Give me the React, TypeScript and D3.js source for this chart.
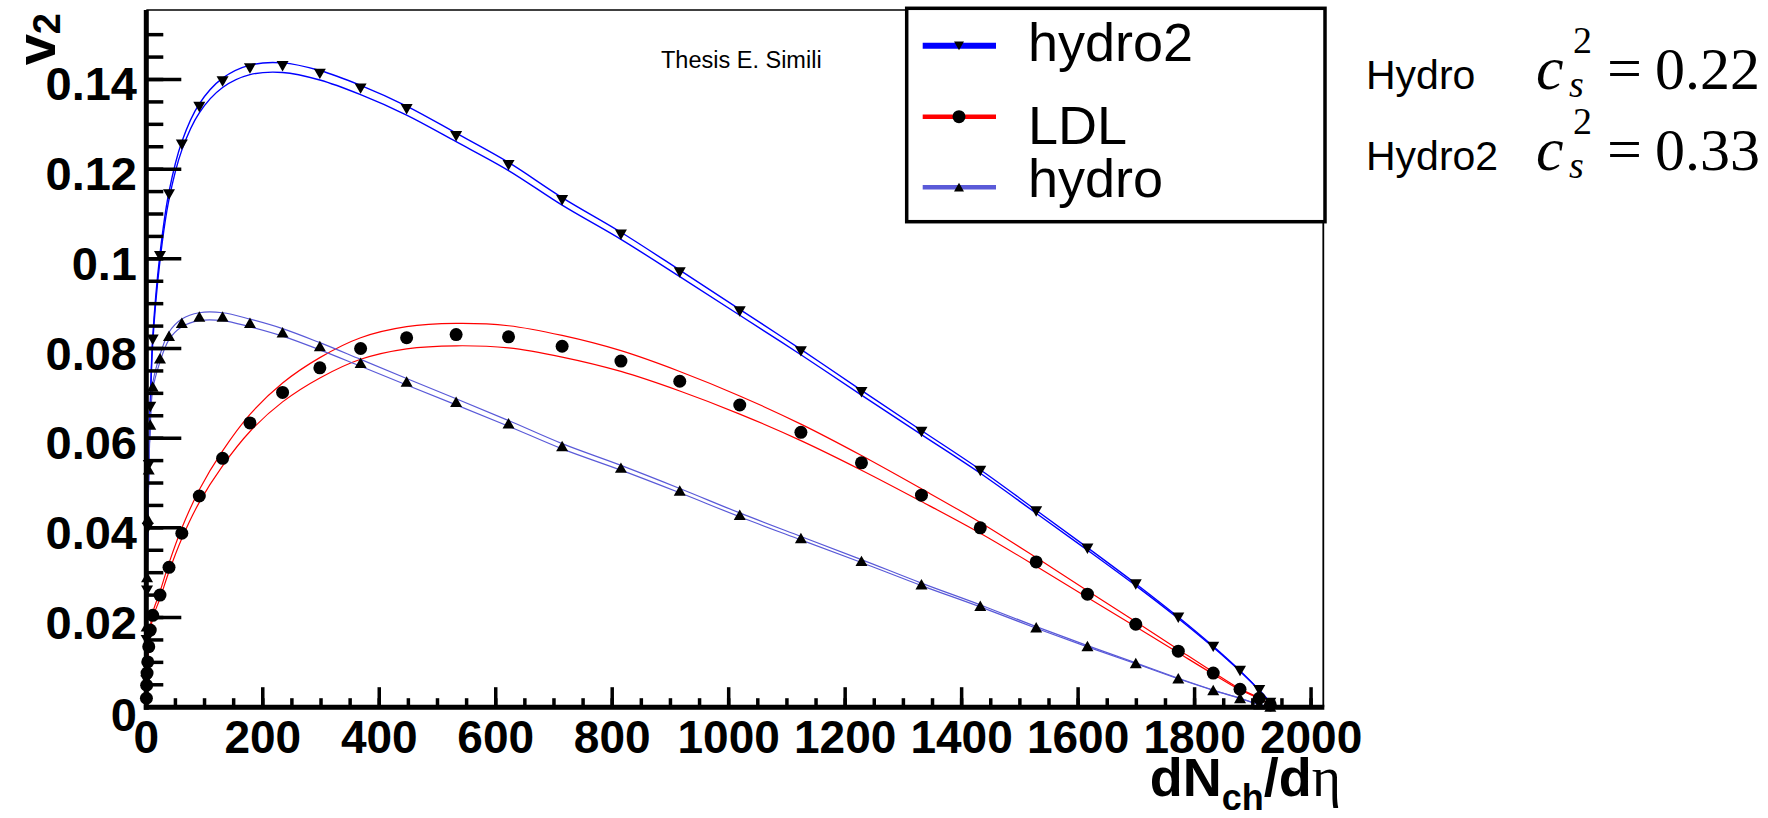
import React from "react";
import * as d3 from "d3";

// ---- data ----
const dNch = [0.2, 0.6, 1.3, 2.5, 4.2, 6.8, 11, 23.5, 39, 61, 91, 131, 178, 234, 298, 368, 447, 532, 622, 714, 815, 916, 1019, 1124, 1228, 1331, 1432, 1528, 1616, 1699, 1772, 1832, 1878, 1911, 1930];
const hydro2V2 = [0.006, 0.015, 0.026, 0.04, 0.054, 0.067, 0.082, 0.1006, 0.1144, 0.1255, 0.1339, 0.1396, 0.1425, 0.143, 0.1413, 0.138, 0.1334, 0.1274, 0.1209, 0.1131, 0.1054, 0.097, 0.0883, 0.0794, 0.0703, 0.0614, 0.0527, 0.0437, 0.0354, 0.0274, 0.02, 0.0135, 0.0081, 0.0038, 0.001];
const ldlV2 = [0.002, 0.0049, 0.0076, 0.0101, 0.0135, 0.0172, 0.0205, 0.025, 0.0312, 0.0388, 0.0471, 0.0555, 0.0634, 0.0702, 0.0757, 0.08, 0.0824, 0.0831, 0.0826, 0.0805, 0.0772, 0.0727, 0.0674, 0.0613, 0.0545, 0.0473, 0.04, 0.0324, 0.0252, 0.0185, 0.0125, 0.0076, 0.004, 0.002, 0.0005];
const hydroV2 = [0.008, 0.018, 0.029, 0.042, 0.053, 0.063, 0.0715, 0.0778, 0.0828, 0.0857, 0.0871, 0.0871, 0.0857, 0.0836, 0.0805, 0.0768, 0.0726, 0.0681, 0.0633, 0.0582, 0.0534, 0.0483, 0.0429, 0.0377, 0.0326, 0.0274, 0.0226, 0.0178, 0.0136, 0.0098, 0.0064, 0.0038, 0.002, 0.0006, 0.0001];
// relative half-widths of the theory bands (lower, upper factor)
const hydro2Band = [0.99, 1.005];
const ldlBand = [0.97, 1.03];
const hydroBand = [0.99, 1.01];

const xTicks = [0, 200, 400, 600, 800, 1000, 1200, 1400, 1600, 1800, 2000];
const xMinor = d3.range(0, 2001, 50);
const yTicks = [0, 0.02, 0.04, 0.06, 0.08, 0.1, 0.12, 0.14];
const yTickLabels = ["0", "0.02", "0.04", "0.06", "0.08", "0.1", "0.12", "0.14"];
const yMinor = d3.range(0, 0.1501, 0.005);

const legendLabels = ["hydro2", "LDL", "hydro"];
const annotationNames = ["Hydro", "Hydro2"];
const annotationValues = ["0.22", "0.33"];

const HYDRO2_COLOR = "#0000ff";
const LDL_COLOR = "#ff0000";
const HYDRO_COLOR = "#5a5ad8";

const SANS = "'Liberation Sans', Arial, Helvetica, sans-serif";
const SERIF = "'Liberation Serif', 'Times New Roman', serif";

export default function App() {
  const x = d3.scaleLinear().domain([0, 2021]).range([146.3, 1323.3]);
  const y = d3.scaleLinear().domain([0, 0.1555]).range([707.2, 10]);

  const mkLine = (vals: number[], f: number) =>
    d3
      .line<number>()
      .x((_, i) => x(dNch[i]))
      .y((v) => y(v * f))
      .curve(d3.curveCatmullRom.alpha(0.5))(vals) || "";

  const downTri = (cx: number, cy: number, s = 12) =>
    `M${cx - s / 2},${cy - s * 0.42}L${cx + s / 2},${cy - s * 0.42}L${cx},${cy + s * 0.45}Z`;
  const upTri = (cx: number, cy: number, s = 12) =>
    `M${cx - s / 2},${cy + s * 0.42}L${cx + s / 2},${cy + s * 0.42}L${cx},${cy - s * 0.45}Z`;

  const series = [
    { vals: hydro2V2, band: hydro2Band, color: HYDRO2_COLOR, w: 1.4, marker: "down" },
    { vals: ldlV2, band: ldlBand, color: LDL_COLOR, w: 1.2, marker: "circle" },
    { vals: hydroV2, band: hydroBand, color: HYDRO_COLOR, w: 1.2, marker: "up" },
  ];

  const x0 = x(0);
  const x1 = x(2021);
  const yTop = y(0.1555);
  const yBot = y(0);

  const legendRows = [45.7, 116.7, 187.3];
  const legendBaselines = [61, 144, 197];
  const annRows = [
    { base: 89, sup: 53, sub: 97 },
    { base: 170, sup: 134, sub: 178 },
  ];

  return (
    <svg
      width={1768}
      height={818}
      style={{ position: "absolute", left: 0, top: 0, background: "#fff" }}
      xmlns="http://www.w3.org/2000/svg"
    >
      <rect x={0} y={0} width={1768} height={818} fill="#fff" />
      <defs>
        <clipPath id="plotClip">
          <rect x={x0} y={yTop} width={x1 - x0} height={yBot - yTop} />
        </clipPath>
      </defs>

      {/* frame top & right */}
      <line x1={x0} x2={x1} y1={yTop} y2={yTop} stroke="#000" strokeWidth={1.5} />
      <line x1={x1} x2={x1} y1={yTop} y2={yBot} stroke="#000" strokeWidth={1.8} />

      {/* band lines */}
      <g clipPath="url(#plotClip)">
        {series.map((s, si) => (
          <g key={si}>
            <path d={mkLine(s.vals, s.band[0])} fill="none" stroke={s.color} strokeWidth={s.w} />
            <path d={mkLine(s.vals, s.band[1])} fill="none" stroke={s.color} strokeWidth={s.w} />
          </g>
        ))}
      </g>

      {/* markers */}
      <g fill="#000">
        {series.map((s, si) =>
          s.vals.map((v, i) => {
            const cx = x(dNch[i]);
            const cy = y(v);
            if (s.marker === "circle") return <circle key={`${si}-${i}`} cx={cx} cy={cy} r={6.5} />;
            if (s.marker === "down") return <path key={`${si}-${i}`} d={downTri(cx, cy)} />;
            return <path key={`${si}-${i}`} d={upTri(cx, cy)} />;
          })
        )}
      </g>

      {/* axes lines */}
      <line x1={x0} x2={x0} y1={yTop} y2={yBot + 2.5} stroke="#000" strokeWidth={5} />
      <line x1={x0 - 2.5} x2={x1 + 1} y1={yBot} y2={yBot} stroke="#000" strokeWidth={5} />

      {/* y ticks */}
      {yMinor.map((t, i) => (
        <line key={`ym${i}`} x1={x0} x2={x0 + 17} y1={y(t)} y2={y(t)} stroke="#000" strokeWidth={3.5} />
      ))}
      {yTicks.map((t, i) => (
        <line key={`yM${i}`} x1={x0} x2={x0 + 35} y1={y(t)} y2={y(t)} stroke="#000" strokeWidth={3.5} />
      ))}
      {yTicks.map((t, i) => (
        <text
          key={`yl${i}`}
          x={137}
          y={t === 0 ? 731 : y(t) + 21}
          textAnchor="end"
          fontFamily={SANS}
          fontWeight="bold"
          fontSize={47}
        >
          {yTickLabels[i]}
        </text>
      ))}

      {/* x ticks */}
      {xMinor.map((t, i) => (
        <line key={`xm${i}`} x1={x(t)} x2={x(t)} y1={yBot} y2={yBot - 9} stroke="#000" strokeWidth={3.5} />
      ))}
      {xTicks.map((t, i) => (
        <line key={`xM${i}`} x1={x(t)} x2={x(t)} y1={yBot} y2={yBot - 20} stroke="#000" strokeWidth={3.5} />
      ))}
      {xTicks.map((t, i) => (
        <text
          key={`xl${i}`}
          x={x(t)}
          y={753}
          textAnchor="middle"
          fontFamily={SANS}
          fontWeight="bold"
          fontSize={46}
        >
          {String(t)}
        </text>
      ))}

      {/* axis titles */}
      <text
        x={1341}
        y={796}
        textAnchor="end"
        fontFamily={SANS}
        fontWeight="bold"
        fontSize={54}
      >
        dN
        <tspan fontSize={36} dy={14}>ch</tspan>
        <tspan dy={-14}>/d</tspan>
        <tspan fontFamily={SERIF} fontWeight="normal" fontSize={56}>η</tspan>
      </text>
      <text
        transform="translate(55,13) rotate(-90)"
        textAnchor="end"
        fontFamily={SANS}
        fontWeight="bold"
        fontSize={56}
      >
        v<tspan fontSize={38} dy={5}>2</tspan>
      </text>

      {/* watermark */}
      <text x={661} y={68} fontFamily={SANS} fontSize={23.5}>
        Thesis E. Simili
      </text>

      {/* legend */}
      <rect x={906.7} y={8.3} width={418.3} height={213.4} fill="#fff" stroke="#000" strokeWidth={3.5} />
      {legendLabels.map((lab, i) => {
        const s = series[i];
        const ly = legendRows[i];
        return (
          <g key={`lg${i}`}>
            <line x1={922.7} x2={996} y1={ly} y2={ly} stroke={s.color} strokeWidth={i === 0 ? 6 : 4.5} />
            {s.marker === "circle" ? (
              <circle cx={959} cy={ly} r={6.5} fill="#000" />
            ) : s.marker === "down" ? (
              <path d={downTri(959, ly, 10)} fill="#000" />
            ) : (
              <path d={upTri(959, ly, 10)} fill="#000" />
            )}
            <text x={1028} y={legendBaselines[i]} fontFamily={SANS} fontSize={54}>
              {lab}
            </text>
          </g>
        );
      })}

      {/* annotation on the right */}
      {annRows.map((r, i) => (
        <g key={`m${i}`}>
          <text x={1366} y={r.base} fontFamily={SANS} fontSize={41}>
            {annotationNames[i]}
          </text>
          <g fontFamily={SERIF}>
            <text x={1536} y={r.base} fontSize={62} fontStyle="italic">c</text>
            <text x={1573} y={r.sup} fontSize={38}>2</text>
            <text x={1569} y={r.sub} fontSize={38} fontStyle="italic">s</text>
            <text x={1607} y={r.base} fontSize={62}>=</text>
            <text x={1655} y={r.base} fontSize={60}>{annotationValues[i]}</text>
          </g>
        </g>
      ))}
    </svg>
  );
}
